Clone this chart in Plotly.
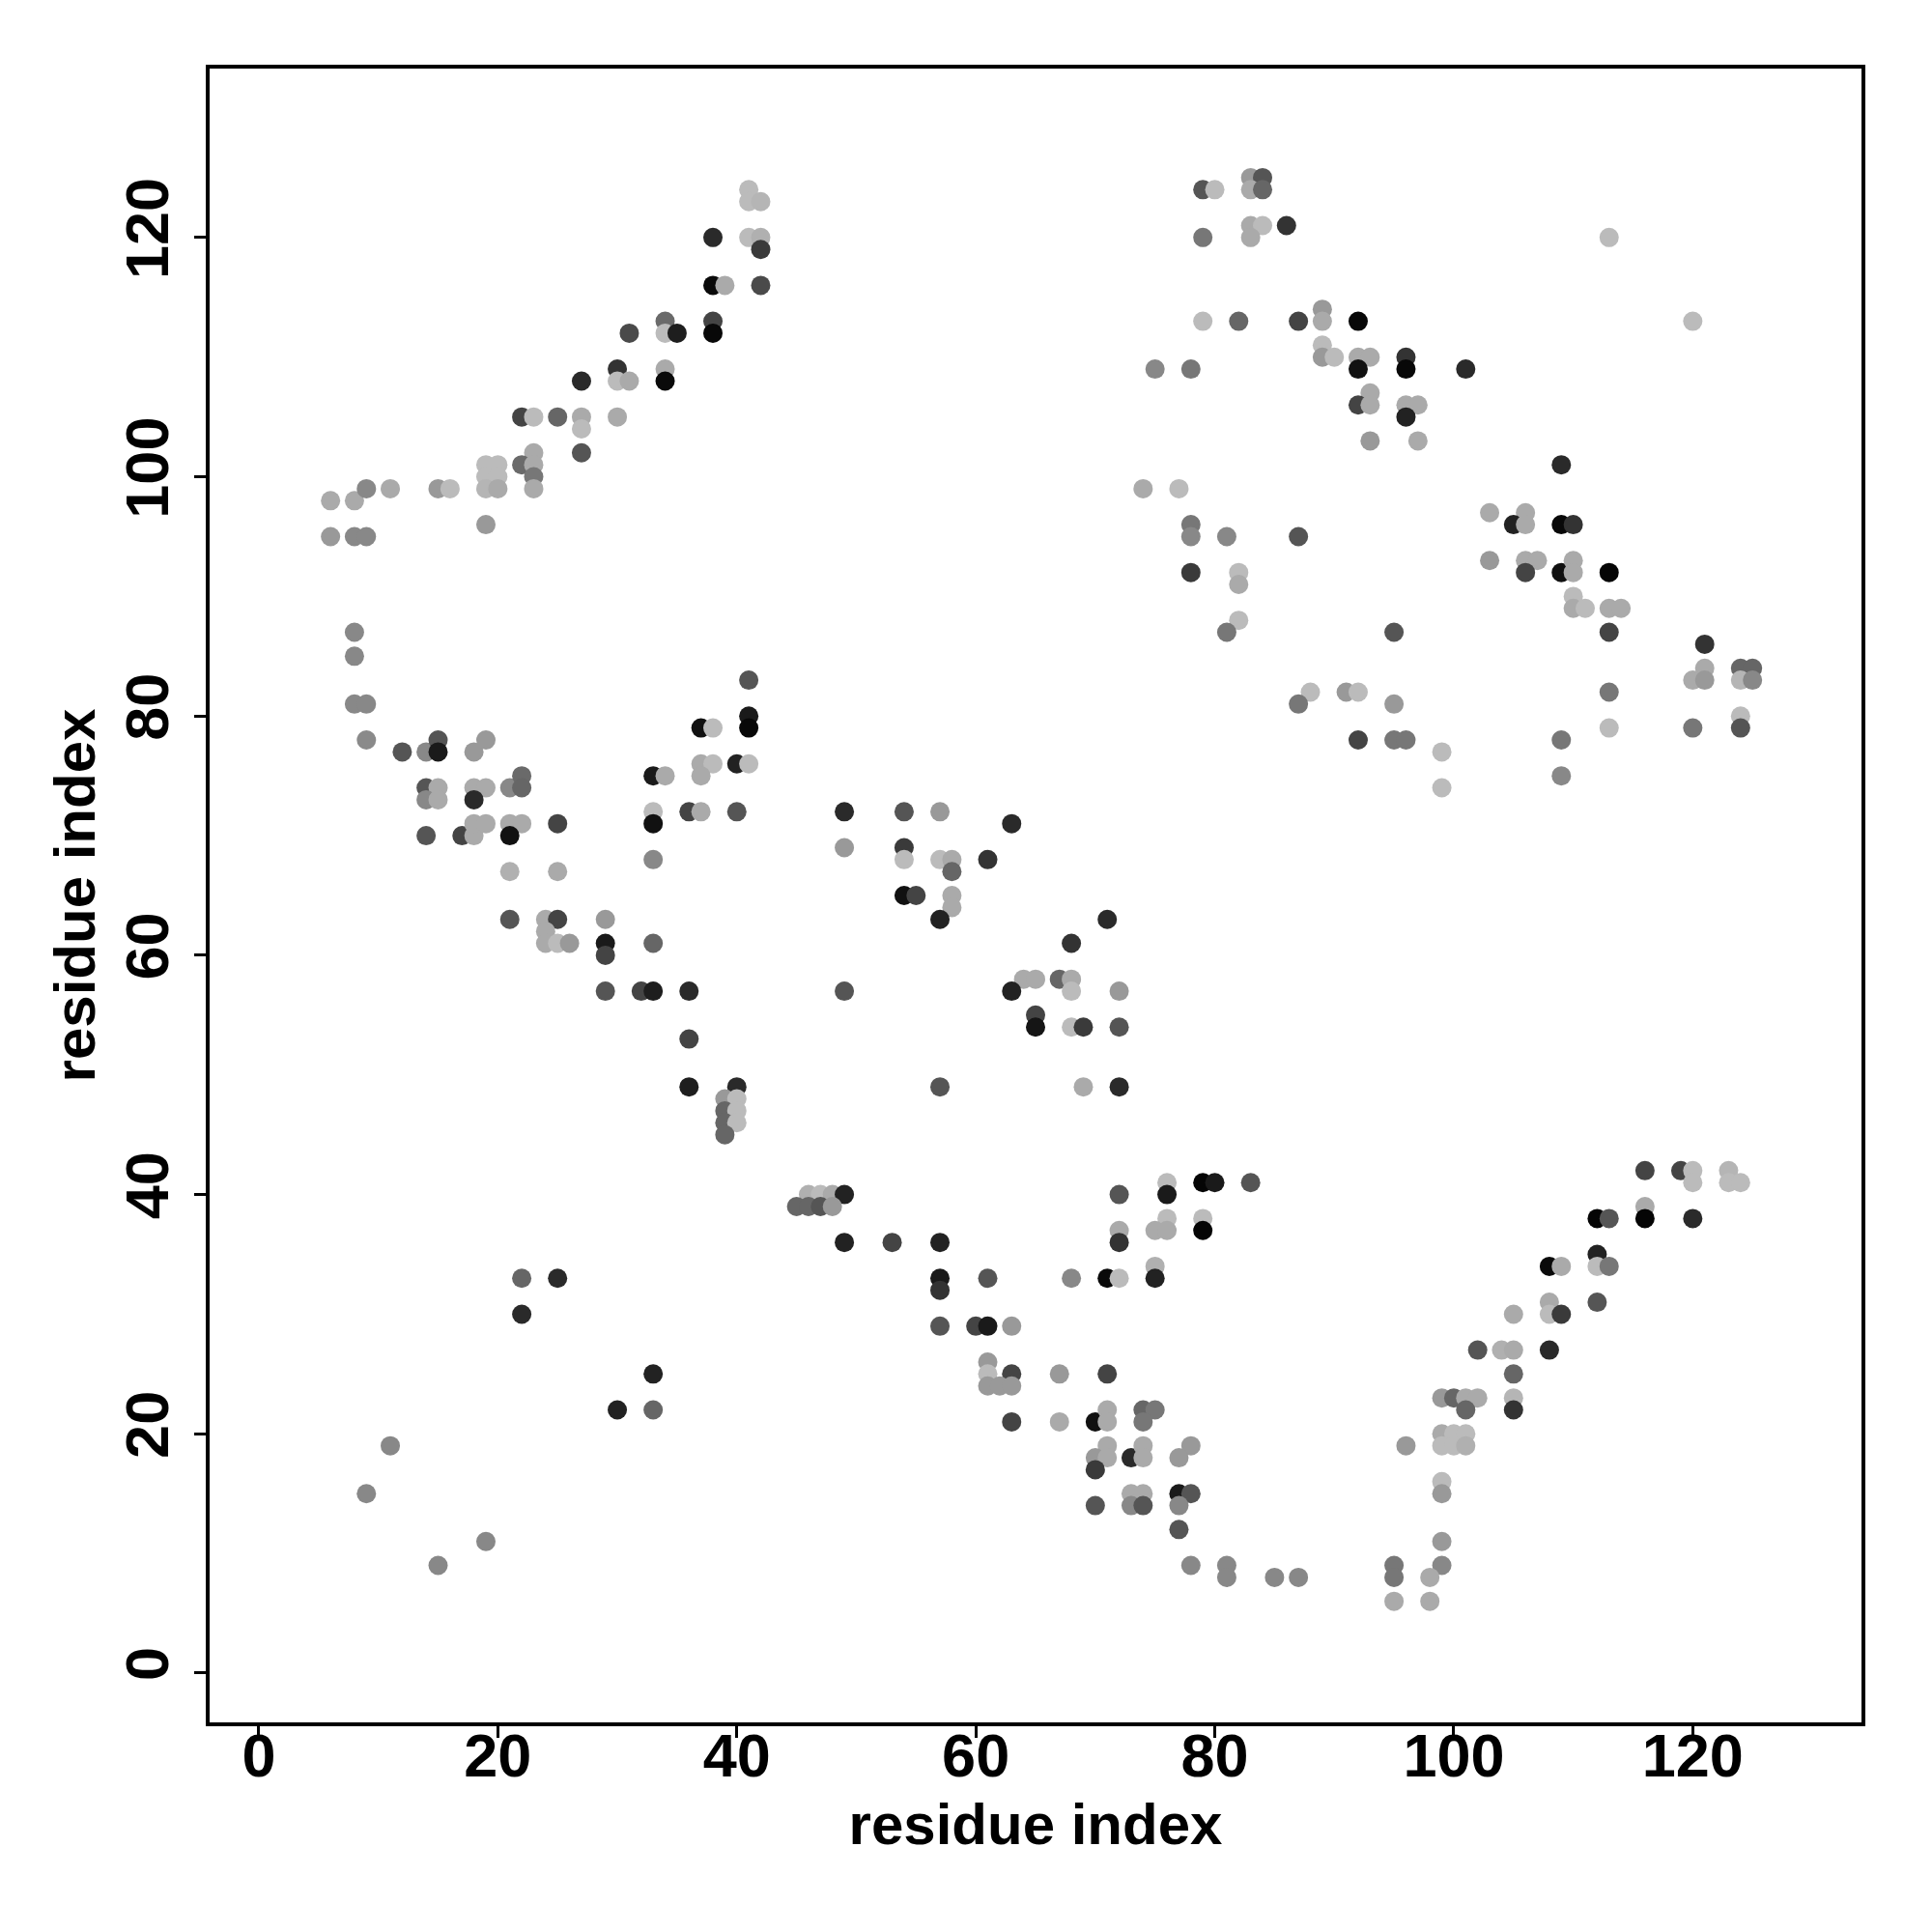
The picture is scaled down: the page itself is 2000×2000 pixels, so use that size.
import plotly.graph_objects as go

# contact points: residue i (x), residue j (y), gray level (0=black .. 255=white)
x_res = [41,41,42,38,41,42,42,38,39,42,34,31,34,35,38,38,27,30,30,31,34,34,22,23,25,27,27,30,27,23,22,23,23,23,19,20,19,20,19,20,19,6,8,9,11,15,16,
         6,8,9,8,8,8,9,9,12,14,15,15,18,19,14,15,14,15,18,19,18,21,22,22,14,17,18,18,19,21,22,21,25,21,25,21,24,25,29,33,34,37,38,41,41,41,37,38,37,40,41,33,33,36,37,40,33,
         24,24,25,26,29,29,33,29,32,33,36,36,36,40,39,40,39,40,39,40,39,22,25,22,
         33,30,33,11,9,19,15,
         79,80,83,84,83,84,83,84,86,83,79,79,82,87,89,89,75,78,74,77,78,
         92,89,89,90,92,93,92,96,96,101,93,92,93,96,97,96,93,97,109,113,120,103,106,105,106,109,110,
         103,106,107,106,109,110,110,113,110,110,111,113,114,113,95,121,121,120,121,124,125,124,125,124,124,120,113,113,109,109,99,99,88,91,92,95,92,95,96,
         78,81,87,78,82,82,82,81,87,49,54,57,63,49,54,54,57,58,58,61,54,55,58,58,57,71,
         68,49,64,65,67,68,68,63,72,65,65,68,69,72,57,69,72,46,47,48,49,45,46,47,48,49,53,57,57,57,61,68,71,72,72,72,72,76,76,79,80,83,76,75,76,79,79,75,75,57,60,61,63,
         61,61,63,61,62,63,67,71,63,67,70,71,71,74,75,74,71,70,71,70,73,74,74,78,77,73,74,73,74,70,77,78,77,77,78,81,81,85,87,
         116,119,120,120,123,123,124,116,116,112,113,120,112,112,113,108,109,108,108,109,112,105,
         102,104,105,108,105,99,100,101,102,101,105,105,99,100,101,99,100,101,96,99,99,99,99,95,95,98,95,98]

y_res = [124,123,123,120,120,120,119,116,116,116,113,112,112,112,113,112,108,109,108,108,109,108,105,105,105,105,104,105,102,102,101,101,100,99,101,101,100,100,99,99,96,98,98,99,99,99,99,
         95,95,95,87,85,81,81,78,77,77,78,77,77,78,74,74,73,73,74,74,73,74,75,74,70,70,70,71,71,71,71,70,71,67,67,63,63,63,63,75,75,79,79,83,80,79,76,76,75,76,76,72,71,72,72,72,68,
         62,61,61,61,61,60,61,57,57,57,57,53,49,49,48,48,47,47,46,46,45,33,33,30,
         25,22,22,19,15,11,9,
         124,124,125,125,124,124,121,121,121,120,120,113,113,113,114,113,109,109,99,99,96,
         113,111,110,110,110,110,109,110,109,109,107,106,106,106,106,105,103,103,101,120,113,97,97,96,96,96,96,
         93,93,93,92,92,93,92,92,90,89,89,89,89,87,87,86,84,83,83,84,84,83,83,80,79,79,82,79,78,75,77,74,82,82,82,81,78,78,78,
         95,95,95,92,92,91,88,87,81,72,72,72,71,69,69,68,68,68,67,68,65,65,65,64,63,63,
         61,57,58,58,58,58,57,57,57,55,54,54,54,54,49,49,49,40,40,40,40,39,39,39,39,36,36,36,33,32,33,33,33,33,40,37,36,41,40,41,41,41,38,37,37,38,37,34,33,29,29,29,29,
         26,25,25,24,24,24,25,25,21,21,21,22,21,22,22,21,19,18,18,17,18,19,18,19,18,15,15,14,14,14,15,15,14,12,9,9,8,8,8,
         42,42,42,41,42,41,41,39,38,38,38,38,35,34,34,34,34,31,30,30,31,30,
         27,27,27,27,25,23,23,23,23,22,23,22,20,20,20,19,19,19,19,16,15,11,9,9,8,8,6,6]

gray_lvl = [187,187,181,42,187,176,58,10,170,74,106,74,187,30,68,8,42,51,187,170,170,10,68,187,102,170,187,170,85,170,106,170,119,170,187,187,187,187,181,170,153,170,170,136,170,153,187,
            153,136,136,136,136,136,136,138,85,136,85,26,153,153,85,170,136,170,170,170,42,136,106,102,85,68,170,170,170,170,170,17,68,176,170,85,170,68,153,26,170,17,187,85,26,8,170,187,170,34,187,187,17,68,170,85,136,
            170,170,187,153,26,68,102,85,68,30,42,68,30,42,153,187,102,187,102,187,102,102,42,42,
            34,34,102,136,136,136,136,
            85,187,153,85,170,102,170,187,51,170,119,187,102,68,153,170,136,119,170,187,119,
            8,187,153,187,170,170,17,51,8,42,170,68,170,170,170,34,153,170,42,187,187,170,170,34,170,8,51,
            153,170,170,68,17,170,170,5,187,170,187,170,170,68,85,51,170,170,153,102,102,181,136,187,85,119,119,187,119,136,187,187,187,153,187,153,68,119,119,
            136,136,85,58,187,170,187,119,119,42,85,153,42,153,58,187,187,170,102,51,17,68,170,170,34,42,
            51,85,170,170,102,170,187,34,153,68,21,187,58,85,85,170,42,176,187,170,34,102,102,85,153,34,68,34,26,51,85,136,10,187,85,170,51,187,26,5,26,85,187,170,170,187,5,176,34,85,68,26,153,
            153,187,68,153,153,153,153,68,68,170,17,170,170,102,119,119,170,153,170,58,42,170,170,153,153,170,170,136,85,85,26,85,136,85,136,136,136,136,136,
            68,68,187,187,181,187,187,170,5,5,85,42,34,187,119,10,170,170,187,58,85,170,
            85,176,170,42,102,153,102,170,170,102,181,51,170,187,187,187,187,176,153,187,153,153,136,119,119,170,170,170]

tick_vals = [0, 20, 40, 60, 80, 100, 120]
axis_label = "residue index"

colors = [f"rgb({g},{g},{g})" for g in gray_lvl]

fig = go.Figure(go.Scatter(
    x=x_res, y=y_res, mode="markers",
    marker=dict(size=20, color=colors, line=dict(width=0)),
    hoverinfo="x+y",
))

font_family = "Liberation Sans, Arial, Helvetica, sans-serif"
tick_font = dict(family=font_family, size=63, color="black", weight="bold")
title_font = dict(family=font_family, size=60, color="black", weight="bold")
common = dict(
    range=[-4.12, 134.12], tickvals=tick_vals,
    showgrid=False, zeroline=False, showline=True, mirror=True,
    linecolor="black", linewidth=4, ticks="outside", ticklen=12, tickwidth=3,
    tickcolor="black", tickfont=tick_font,
)
fig.update_layout(
    width=2000, height=2000,
    margin=dict(l=209, r=81, t=63, b=225, autoexpand=False),
    paper_bgcolor="white", plot_bgcolor="white",
    showlegend=False,
    xaxis=dict(**common, ticklabelstandoff=-36,
               title=dict(text=axis_label, font=title_font, standoff=17)),
    yaxis=dict(**common, tickangle=-90, ticklabelstandoff=2,
               title=dict(text=axis_label, font=title_font, standoff=0)),
)
fig.write_html("out.html")
